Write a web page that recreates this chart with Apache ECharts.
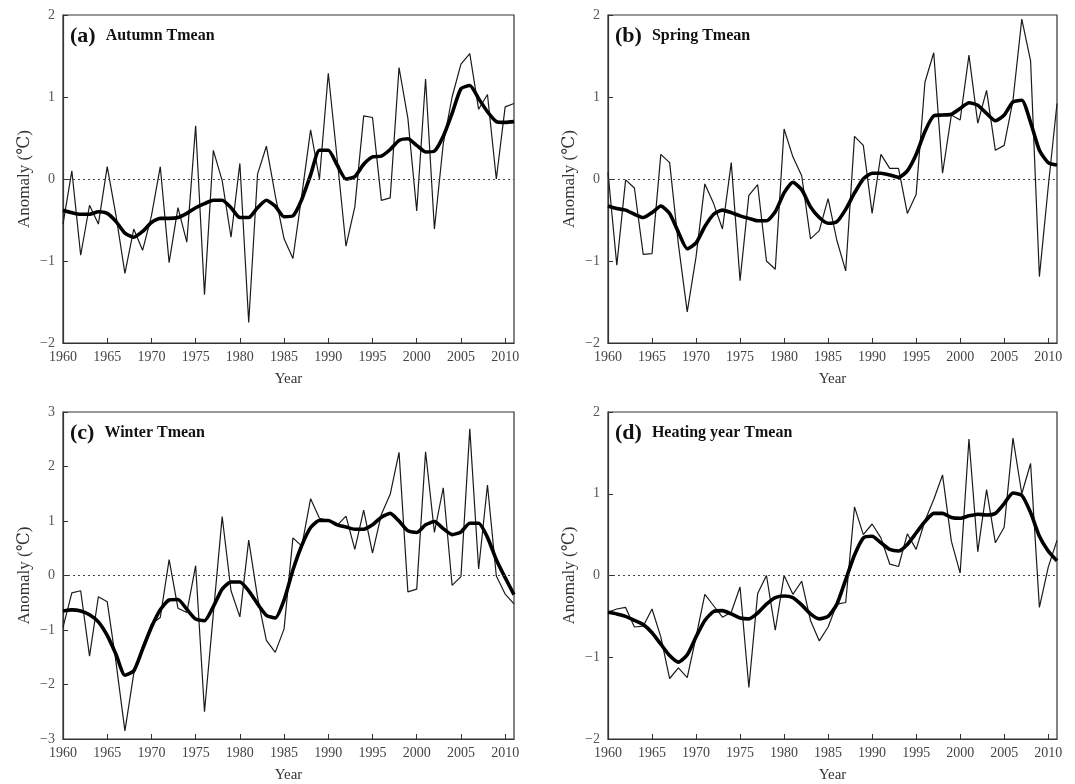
<!DOCTYPE html>
<html>
<head>
<meta charset="utf-8">
<script src="https://cdn.jsdelivr.net/npm/echarts@6/dist/echarts.min.js"></script>
<style>
html,body{margin:0;padding:0;background:#fff;}
#chart{width:1075px;height:784px;}
</style>
</head>
<body>
<div id="chart"></div>
<script>
const years = [1960,1961,1962,1963,1964,1965,1966,1967,1968,1969,1970,1971,1972,1973,1974,1975,1976,1977,1978,1979,1980,1981,1982,1983,1984,1985,1986,1987,1988,1989,1990,1991,1992,1993,1994,1995,1996,1997,1998,1999,2000,2001,2002,2003,2004,2005,2006,2007,2008,2009,2010,2011];

const autumnAnnual = [-0.55,0.10,-0.93,-0.32,-0.55,0.15,-0.45,-1.15,-0.61,-0.87,-0.45,0.15,-1.02,-0.35,-0.77,0.65,-1.41,0.35,-0.02,-0.71,0.19,-1.75,0.06,0.40,-0.20,-0.73,-0.97,-0.20,0.60,0.00,1.29,0.25,-0.82,-0.34,0.77,0.75,-0.26,-0.23,1.36,0.74,-0.39,1.22,-0.61,0.43,1.00,1.40,1.53,0.85,1.03,0.00,0.88,0.92];
const autumnSmooth = [-0.38,-0.41,-0.43,-0.43,-0.40,-0.42,-0.52,-0.66,-0.71,-0.64,-0.53,-0.48,-0.48,-0.47,-0.42,-0.35,-0.30,-0.26,-0.26,-0.35,-0.47,-0.47,-0.35,-0.26,-0.33,-0.46,-0.45,-0.25,0.05,0.35,0.35,0.17,0.00,0.03,0.18,0.27,0.28,0.36,0.47,0.49,0.41,0.33,0.34,0.52,0.80,1.10,1.14,0.98,0.82,0.70,0.69,0.70];

const springAnnual = [0.08,-1.05,-0.01,-0.11,-0.92,-0.91,0.30,0.20,-0.80,-1.62,-0.95,-0.06,-0.30,-0.61,0.20,-1.24,-0.20,-0.07,-1.00,-1.10,0.61,0.27,0.04,-0.73,-0.63,-0.24,-0.75,-1.12,0.52,0.41,-0.42,0.30,0.13,0.13,-0.42,-0.19,1.18,1.54,0.07,0.78,0.72,1.51,0.68,1.08,0.35,0.41,0.96,1.95,1.44,-1.19,-0.10,0.92];
const springSmooth = [-0.33,-0.36,-0.38,-0.43,-0.47,-0.41,-0.33,-0.42,-0.65,-0.85,-0.78,-0.58,-0.43,-0.38,-0.41,-0.45,-0.48,-0.51,-0.51,-0.40,-0.17,-0.04,-0.13,-0.34,-0.47,-0.54,-0.52,-0.37,-0.17,0.00,0.07,0.07,0.05,0.02,0.10,0.30,0.58,0.77,0.78,0.79,0.86,0.93,0.90,0.80,0.71,0.78,0.94,0.96,0.69,0.35,0.20,0.17];

const winterAnnual = [-0.95,-0.32,-0.28,-1.48,-0.39,-0.48,-1.60,-2.85,-1.80,-1.30,-0.89,-0.77,0.29,-0.60,-0.68,0.18,-2.50,-0.70,1.08,-0.28,-0.76,0.65,-0.40,-1.19,-1.41,-0.98,0.69,0.54,1.41,1.05,1.01,0.92,1.09,0.48,1.20,0.41,1.12,1.49,2.26,-0.30,-0.25,2.27,0.79,1.61,-0.18,-0.02,2.69,0.12,1.66,-0.01,-0.34,-0.52];
const winterSmooth = [-0.65,-0.63,-0.65,-0.72,-0.85,-1.10,-1.45,-1.83,-1.75,-1.35,-0.95,-0.63,-0.45,-0.44,-0.62,-0.80,-0.83,-0.57,-0.25,-0.12,-0.12,-0.28,-0.52,-0.73,-0.78,-0.45,0.10,0.55,0.88,1.01,1.01,0.93,0.89,0.85,0.85,0.93,1.07,1.14,1.00,0.82,0.79,0.93,0.99,0.86,0.75,0.80,0.96,0.96,0.70,0.29,-0.04,-0.35];

const heatingAnnual = [-0.45,-0.41,-0.39,-0.63,-0.62,-0.41,-0.75,-1.26,-1.13,-1.25,-0.75,-0.23,-0.37,-0.51,-0.45,-0.14,-1.37,-0.22,0.00,-0.67,0.00,-0.23,-0.07,-0.55,-0.80,-0.63,-0.35,-0.33,0.84,0.50,0.63,0.46,0.14,0.11,0.51,0.32,0.67,0.93,1.23,0.42,0.03,1.67,0.29,1.05,0.40,0.59,1.68,1.00,1.37,-0.39,0.10,0.43];
const heatingSmooth = [-0.45,-0.47,-0.50,-0.55,-0.60,-0.70,-0.84,-0.98,-1.06,-0.97,-0.75,-0.55,-0.44,-0.43,-0.47,-0.52,-0.53,-0.46,-0.35,-0.27,-0.25,-0.27,-0.36,-0.47,-0.53,-0.50,-0.35,-0.05,0.25,0.46,0.48,0.40,0.32,0.30,0.38,0.52,0.66,0.76,0.76,0.71,0.70,0.73,0.75,0.74,0.76,0.88,1.01,0.98,0.77,0.48,0.30,0.18];

const panelLetters = ['(a)','(b)','(c)','(d)'];
const panelNames = ['Autumn Tmean','Spring Tmean','Winter Tmean','Heating year Tmean'];
const yRanges = [[-2,2],[-2,2],[-3,3],[-2,2]];
const xTickStart = 1960, xTickEnd = 2011, xTickStep = 5;
const xLabel = 'Year';
const yLabel = 'Anomaly (\u2103)';

const annualSets = [autumnAnnual, springAnnual, winterAnnual, heatingAnnual];
const smoothSets = [autumnSmooth, springSmooth, winterSmooth, heatingSmooth];

const FONT = '"Liberation Serif","DejaVu Serif",serif';
const grids = [
  {left:63, width:451, top:15, height:328},
  {left:608, width:449, top:15, height:328},
  {left:63, width:451, top:412, height:329},
  {left:608, width:449, top:412, height:329}
];

const chart = echarts.init(document.getElementById('chart'), null, {renderer:'canvas'});

const option = {
  animation:false,
  backgroundColor:'#fff',
  grid: grids.map(g => Object.assign({show:true, borderColor:'#333', borderWidth:1.2, backgroundColor:'transparent'}, g)),
  title: grids.map((g,i) => ({
    text: '{p|' + panelLetters[i] + '}{t|' + panelNames[i] + '}',
    left: g.left + 2,
    top: g.top + 5,
    textStyle: {
      rich: {
        p: {fontFamily: FONT, fontWeight:'bold', fontSize:22, color:'#111'},
        t: {fontFamily: FONT, fontWeight:'bold', fontSize:16, color:'#111', padding:[0,0,0,10]}
      }
    }
  })),
  xAxis: grids.map((g,i) => ({
    type:'value', gridIndex:i, min:xTickStart, max:xTickEnd, interval:xTickStep,
    name: xLabel, nameLocation:'middle', nameGap:29,
    nameTextStyle:{fontFamily:FONT, fontSize:15, color:'#333'},
    axisLine:{show:true, onZero:false, lineStyle:{color:'#333', width:1.2}},
    axisTick:{show:true, inside:true, length:5, lineStyle:{color:'#333'}},
    axisLabel:{fontFamily:FONT, fontSize:14, color:'#444', margin:7, showMaxLabel:false, formatter: v => String(v)},
    splitLine:{show:false}
  })),
  yAxis: grids.map((g,i) => ({
    type:'value', gridIndex:i, min:yRanges[i][0], max:yRanges[i][1], interval:1,
    name: yLabel, nameLocation:'middle', nameGap:30,
    nameTextStyle:{fontFamily:FONT, fontSize:17, color:'#333'},
    axisLine:{show:true, onZero:false, lineStyle:{color:'#333', width:1.2}},
    axisTick:{show:true, inside:true, length:5, lineStyle:{color:'#333'}},
    axisLabel:{fontFamily:FONT, fontSize:14, color:'#555', margin:8, formatter: v => String(v).replace('-', '\u2212')},
    splitLine:{show:false}
  })),
  series: []
};

for (let i = 0; i < 4; i++) {
  option.series.push({
    type:'line', xAxisIndex:i, yAxisIndex:i,
    data: years.map((y,k) => [y, annualSets[i][k]]),
    symbol:'none', lineStyle:{color:'#1a1a1a', width:1.2},
    markLine:{
      silent:true, symbol:['none','none'], label:{show:false},
      lineStyle:{color:'#444', width:1, type:[2,3]},
      data:[{yAxis:0}]
    },
    z:2
  });
  option.series.push({
    type:'line', xAxisIndex:i, yAxisIndex:i,
    data: years.map((y,k) => [y, smoothSets[i][k]]),
    symbol:'none', lineStyle:{color:'#000', width:3.6}, smooth:0.2,
    z:3
  });
}

chart.setOption(option);
</script>
</body>
</html>
